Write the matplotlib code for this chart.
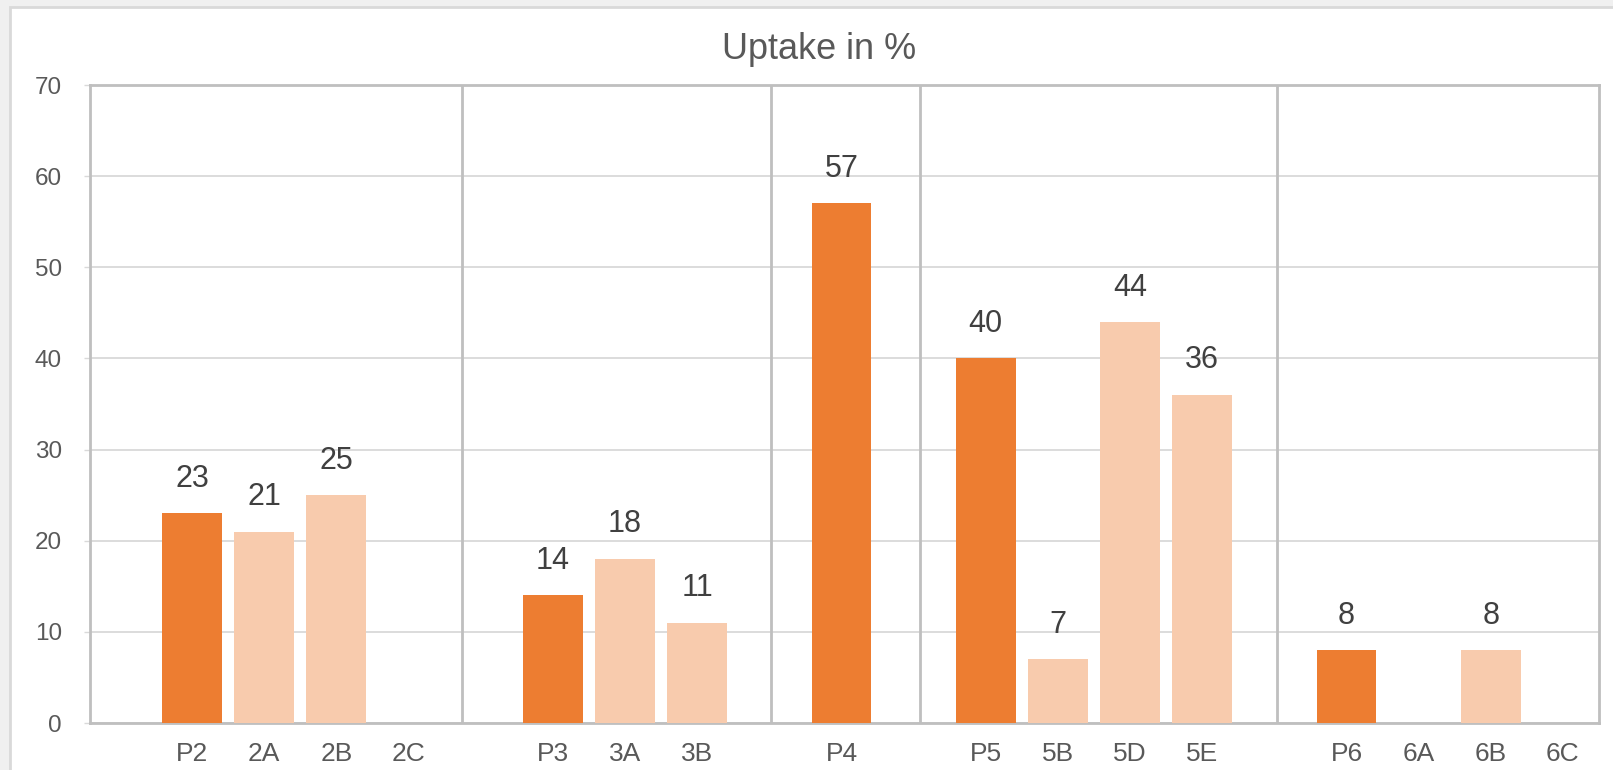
import matplotlib.pyplot as plt
from matplotlib.patches import Rectangle

plt.rcParams['font.family'] = ['Liberation Sans', 'DejaVu Sans']

# one slot per category, blank slots keep the groups apart
labels = ['', 'P2', '2A', '2B', '2C', '', 'P3', '3A', '3B', '', 'P4', '',
          'P5', '5B', '5D', '5E', '', 'P6', '6A', '6B', '6C']
uptake = [None, 23, 21, 25, None, None, 14, 18, 11, None, 57, None,
          40, 7, 44, 36, None, 8, None, 8, None]
separators = [4.74, 9.03, 11.09, 16.03]

dark = '#ED7D31'
light = '#F8CBAD'
grey_txt = '#595959'
frame = '#BFBFBF'

fig = plt.figure(figsize=(16.13, 7.70), dpi=100)
fig.patch.set_facecolor('#F0F0F0')
fig.patches.append(Rectangle((10 / 1613, -0.1), 1.1, 0.9909 + 0.1,
                             transform=fig.transFigure, facecolor='white',
                             edgecolor='#D9D9D9', lw=2, zorder=-5))

ax = fig.add_axes([89.7 / 1613, 47 / 770, (1599 - 89.7) / 1613, (723 - 85) / 770])
ax.set_facecolor('white')

for i, (lab, v) in enumerate(zip(labels, uptake)):
    if v is None:
        continue
    col = dark if lab.startswith('P') else light
    ax.bar(i, v, width=0.83, color=col, zorder=3)
    ax.annotate(str(v), (i, v), xytext=(0, 14), textcoords='offset points',
                ha='center', va='bottom', fontsize=22, color='#404040')

for s in separators:
    ax.axvline(s, color=frame, lw=2, zorder=4)

ax.set_xlim(-0.42, 20.5)
ax.set_ylim(0, 70)
ax.set_yticks(range(0, 71, 10))
ax.yaxis.grid(True, color='#D9D9D9', lw=1.3, zorder=1)
ax.set_axisbelow(True)
ax.set_xticks(range(len(labels)))
ax.set_xticklabels(labels)

ax.tick_params(axis='x', length=0, pad=14, labelsize=19, labelcolor=grey_txt)
ax.tick_params(axis='y', length=4, width=1, color='#D9D9D9', pad=16,
               labelsize=17.5, labelcolor=grey_txt)
for sp in ax.spines.values():
    sp.set_color(frame)
    sp.set_linewidth(2)

fig.text(819 / 1613, 1 - 59 / 770, 'Uptake in %', ha='center', va='baseline',
         fontsize=26, color=grey_txt)

fig.savefig('out.png', dpi=100, facecolor=fig.get_facecolor())
